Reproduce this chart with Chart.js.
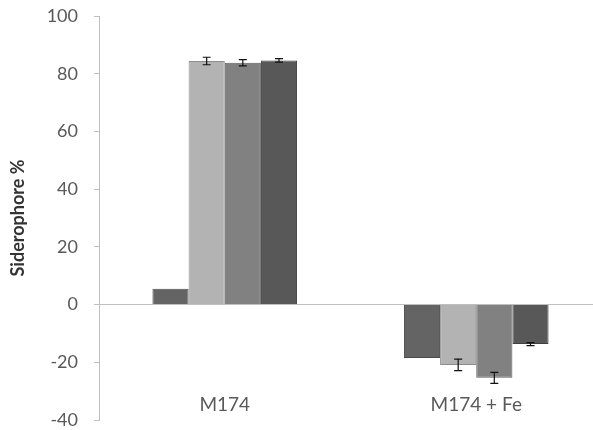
<!DOCTYPE html>
<html><head><meta charset="utf-8">
<script src="https://cdn.jsdelivr.net/npm/chart.js@4"></script>
<style>
html,body{margin:0;padding:0;background:#fff;overflow:hidden;}
#wrap{width:602px;height:430px;position:relative;}
</style></head>
<body><div id="wrap"><canvas id="c"></canvas></div>
<script>
const categories = ["M174", "M174 + Fe"];
const series1 = [5.5, -18.5];
const series2 = [84.4, -20.9];
const series3 = [83.8, -25.4];
const series4 = [84.6, -13.7];
const err1 = [0, 0];
const err2 = [1.3, 2.0];
const err3 = [1.1, 1.9];
const err4 = [0.6, 0.5];
const yTicks = [-40, -20, 0, 20, 40, 60, 80, 100];

const seriesList = [series1, series2, series3, series4];
const errList = [err1, err2, err3, err4];
const fills = ['#646464', '#b3b3b3', '#818181', '#585858'];
const edges = ['#4a4a4a', '#8c8c8c', '#5e5e5e', '#404040'];

const errorBars = {
  id: 'errorBars',
  afterDatasetsDraw(chart) {
    const ctx = chart.ctx, y = chart.scales.y;
    ctx.save();
    ctx.strokeStyle = '#111';
    ctx.lineWidth = 1.2;
    chart.data.datasets.forEach((ds, di) => {
      const meta = chart.getDatasetMeta(di);
      meta.data.forEach((bar, i) => {
        const e = errList[di][i];
        if (!e) return;
        const v = ds.data[i];
        const x = bar.x;
        const yt = y.getPixelForValue(v + e), yb = y.getPixelForValue(v - e);
        ctx.beginPath();
        ctx.moveTo(x, yt); ctx.lineTo(x, yb);
        ctx.moveTo(x - 4, yt); ctx.lineTo(x + 4, yt);
        ctx.moveTo(x - 4, yb); ctx.lineTo(x + 4, yb);
        ctx.stroke();
      });
    });
    ctx.restore();
  }
};

new Chart(document.getElementById('c'), {
  type: 'bar',
  data: {
    labels: categories,
    datasets: seriesList.map((s, i) => ({
      label: 'S' + (i + 1),
      data: s,
      backgroundColor: fills[i],
      borderColor: edges[i],
      borderWidth: 1,
      categoryPercentage: 0.575,
      barPercentage: 1.0
    }))
  },
  options: {
    responsive: true,
    maintainAspectRatio: false,
    animation: false,
    layout: { padding: { top: 16, bottom: 10, left: 0, right: 0 } },
    plugins: { legend: { display: false }, tooltip: { enabled: false } },
    scales: {
      x: {
        position: { y: -28 },
        afterFit(s) { s.height = 0; s.paddingTop = 0; s.paddingBottom = 0; s.paddingLeft = 0; s.paddingRight = 0; },
        grid: { display: false },
        border: { display: false },
        ticks: { color: '#595959', font: { family: 'Lato', size: 19 }, padding: 0 }
      },
      y: {
        min: -40, max: 100,
        afterBuildTicks(s) { s.ticks = yTicks.map(v => ({ value: v })); },
        afterFit(s) { s.width = 99; s.paddingTop = 0; s.paddingBottom = 0; },
        grid: {
          color: c => (c.tick && c.tick.value === 0) ? '#bfbfbf' : 'rgba(0,0,0,0)',
          tickColor: '#bfbfbf',
          tickLength: 5,
          lineWidth: 1
        },
        border: { display: true, color: '#bfbfbf' },
        ticks: { color: '#595959', font: { family: 'Lato', size: 18 }, padding: 16 },
        title: { display: true, text: 'Siderophore %', color: '#333', font: { family: 'Lato', size: 18, weight: 'bold' }, padding: { top: 7, bottom: 0 } }
      }
    }
  },
  plugins: [errorBars]
});
</script></body></html>
